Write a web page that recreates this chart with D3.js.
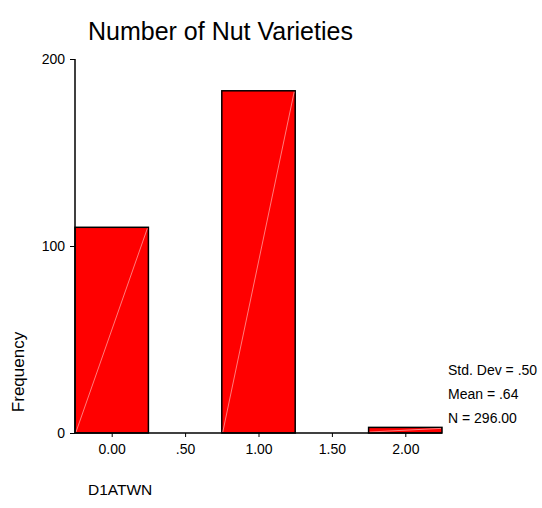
<!DOCTYPE html>
<html>
<head>
<meta charset="utf-8">
<script src="https://cdn.jsdelivr.net/npm/d3@7"></script>
<style>
  html, body { margin: 0; padding: 0; background: #fff; }
  svg text { font-family: Arial, "Liberation Sans", sans-serif; fill: #000; }
</style>
</head>
<body>
<svg id="chart" width="542" height="508"></svg>
<script>
// Data
const binCenters = [0, 1, 2];
const frequencies = [110, 183, 3];
const binWidth = 0.5;
const xTickValues = [0, 0.5, 1, 1.5, 2];
const xTickLabels = ["0.00", ".50", "1.00", "1.50", "2.00"];
const yTickValues = [0, 100, 200];
const statsLines = ["Std. Dev = .50", "Mean = .64", "N = 296.00"];
const title = "Number of Nut Varieties";
const xTitle = "D1ATWN";
const yTitle = "Frequency";

const svg = d3.select("#chart");
const x = d3.scaleLinear().domain([-0.25, 2.25]).range([75, 442]);
const y = d3.scaleLinear().domain([0, 200]).range([433, 59]);

// Bars
const bars = svg.append("g");
binCenters.forEach((c, i) => {
  const x0 = x(c - binWidth / 2), x1 = x(c + binWidth / 2);
  const y0 = y(0), y1 = y(frequencies[i]);
  bars.append("rect")
    .attr("x", x0).attr("y", y1)
    .attr("width", x1 - x0).attr("height", y0 - y1)
    .attr("fill", "#ff0000").attr("stroke", "#000").attr("stroke-width", 1.5);
  bars.append("line")
    .attr("x1", x0 + 1).attr("y1", y0 - 1)
    .attr("x2", x1 - 1).attr("y2", y1 + 1)
    .attr("stroke", "#ff9a9a").attr("stroke-width", 0.8);
});

const font = "Arial, 'Liberation Sans', sans-serif";

// Y axis
const yAxis = d3.axisLeft(y).tickValues(yTickValues).tickSize(5).tickPadding(5)
  .tickFormat(d3.format("d"));
const gy = svg.append("g").attr("transform", "translate(75,0)").call(yAxis);
gy.select(".domain").attr("stroke", "#000").attr("stroke-width", 1.5).attr("d", `M0,${y(200)}V${y(0)}`);
gy.selectAll(".tick line").attr("stroke", "#000");
gy.selectAll(".tick text").style("font-size", "14px").style("font-family", font);

// X axis
const xAxis = d3.axisBottom(x).tickValues(xTickValues).tickSize(4).tickPadding(7)
  .tickFormat((d, i) => xTickLabels[i]);
const gx = svg.append("g").attr("transform", `translate(0,${y(0)})`).call(xAxis);
gx.select(".domain").attr("stroke", "#000").attr("stroke-width", 1.5).attr("d", `M${x(-0.25)},0H${x(2.25)}`);
gx.selectAll(".tick line").attr("stroke", "#000");
gx.selectAll(".tick text").style("font-size", "14px").style("font-family", font);

// Titles
svg.append("text").attr("x", 88).attr("y", 40).style("font-size", "25px").text(title);
svg.append("text").attr("x", 88).attr("y", 495).style("font-size", "15.5px").text(xTitle);
svg.append("text").attr("transform", "translate(24,372) rotate(-90)")
  .attr("text-anchor", "middle").style("font-size", "17px").text(yTitle);

// Stats
svg.selectAll("text.stat").data(statsLines).enter().append("text")
  .attr("class", "stat").attr("x", 448).attr("y", (d, i) => 375 + i * 24)
  .style("font-size", "14px").text(d => d);
</script>
</body>
</html>
